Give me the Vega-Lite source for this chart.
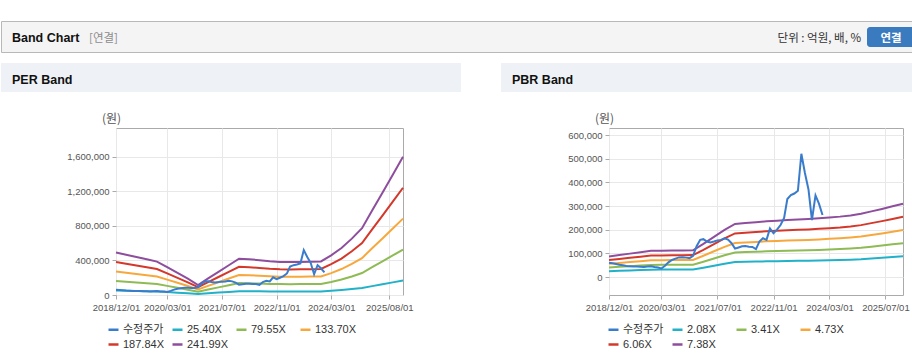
{
  "$schema": "https://vega.github.io/schema/vega-lite/v6.json",
  "padding": {"left": 0, "top": 20, "right": 0, "bottom": 0},
  "background": "#ffffff",
  "spacing": 10,
  "config": {
    "view": {"stroke": null},
    "axis": {"labelFont": "Liberation Sans", "labelFontSize": 9.5, "labelColor": "#555555", "gridColor": "#e8e8e8", "tickColor": "#aaaaaa", "tickSize": 4, "labelPadding": 3, "domain": false, "labelFlush": false, "labelOverlap": false, "titleFont": "Noto Sans CJK KR", "titleFontSize": 12, "titleFontWeight": "normal", "titleColor": "#555555"},
    "legend": {"orient": "none", "direction": "horizontal", "columns": 4, "gridAlign": "all", "symbolType": "stroke", "symbolSize": 100, "symbolStrokeWidth": 2.5, "labelFont": "Liberation Sans, Noto Sans CJK KR", "labelFontSize": 11, "labelColor": "#333333", "columnPadding": 3, "rowPadding": 3, "labelOffset": 3, "title": null}
  },
  "datasets": {
    "price": [
      {"d":"2018-12-01","s":"수정주가","v":60000},{"d":"2019-01-01","s":"수정주가","v":58000},{"d":"2019-02-01","s":"수정주가","v":55000},{"d":"2019-03-01","s":"수정주가","v":52000},{"d":"2019-04-01","s":"수정주가","v":50000},{"d":"2019-05-01","s":"수정주가","v":47000},{"d":"2019-06-01","s":"수정주가","v":46000},{"d":"2019-07-01","s":"수정주가","v":45000},{"d":"2019-08-01","s":"수정주가","v":44000},{"d":"2019-09-01","s":"수정주가","v":43000},{"d":"2019-10-01","s":"수정주가","v":42000},{"d":"2019-11-01","s":"수정주가","v":44000},{"d":"2019-12-01","s":"수정주가","v":45000},
      {"d":"2020-01-01","s":"수정주가","v":42000},{"d":"2020-02-01","s":"수정주가","v":40000},{"d":"2020-03-01","s":"수정주가","v":36000},{"d":"2020-04-01","s":"수정주가","v":48000},{"d":"2020-05-01","s":"수정주가","v":62000},{"d":"2020-06-01","s":"수정주가","v":72000},{"d":"2020-07-01","s":"수정주가","v":78000},{"d":"2020-08-01","s":"수정주가","v":83000},{"d":"2020-09-01","s":"수정주가","v":84000},{"d":"2020-10-01","s":"수정주가","v":82000},{"d":"2020-11-01","s":"수정주가","v":80000},{"d":"2020-12-01","s":"수정주가","v":90000},
      {"d":"2021-01-01","s":"수정주가","v":130000},{"d":"2021-02-01","s":"수정주가","v":157000},{"d":"2021-03-01","s":"수정주가","v":160000},{"d":"2021-04-01","s":"수정주가","v":150000},{"d":"2021-05-01","s":"수정주가","v":146000},{"d":"2021-06-01","s":"수정주가","v":150000},{"d":"2021-07-01","s":"수정주가","v":155000},{"d":"2021-08-01","s":"수정주가","v":157000},{"d":"2021-09-01","s":"수정주가","v":164000},{"d":"2021-10-01","s":"수정주가","v":158000},{"d":"2021-11-01","s":"수정주가","v":143000},{"d":"2021-12-01","s":"수정주가","v":120000},
      {"d":"2022-01-01","s":"수정주가","v":125000},{"d":"2022-02-01","s":"수정주가","v":130000},{"d":"2022-03-01","s":"수정주가","v":131000},{"d":"2022-04-01","s":"수정주가","v":128000},{"d":"2022-05-01","s":"수정주가","v":127000},{"d":"2022-06-01","s":"수정주가","v":118000},{"d":"2022-07-01","s":"수정주가","v":150000},{"d":"2022-08-01","s":"수정주가","v":164000},{"d":"2022-09-01","s":"수정주가","v":157000},{"d":"2022-10-01","s":"수정주가","v":205000},{"d":"2022-11-01","s":"수정주가","v":185000},{"d":"2022-12-01","s":"수정주가","v":200000},
      {"d":"2023-01-01","s":"수정주가","v":220000},{"d":"2023-02-01","s":"수정주가","v":250000},{"d":"2023-03-01","s":"수정주가","v":330000},{"d":"2023-04-01","s":"수정주가","v":346000},{"d":"2023-05-01","s":"수정주가","v":353000},{"d":"2023-06-01","s":"수정주가","v":365000},{"d":"2023-07-01","s":"수정주가","v":521000},{"d":"2023-08-01","s":"수정주가","v":440000},{"d":"2023-09-01","s":"수정주가","v":370000},{"d":"2023-10-01","s":"수정주가","v":241000},{"d":"2023-11-01","s":"수정주가","v":345000},{"d":"2023-12-01","s":"수정주가","v":310000},
      {"d":"2024-01-01","s":"수정주가","v":262000}
    ],
    "perBands": [
      {"d":"2018-12-01","s":"25.40X","v":51816},{"d":"2019-03-01","s":"25.40X","v":49022},{"d":"2019-06-01","s":"25.40X","v":46228},{"d":"2019-09-01","s":"25.40X","v":43434},{"d":"2019-12-01","s":"25.40X","v":40640},{"d":"2020-03-01","s":"25.40X","v":33782},{"d":"2020-06-01","s":"25.40X","v":26924},{"d":"2020-09-01","s":"25.40X","v":19812},{"d":"2020-12-01","s":"25.40X","v":12192},{"d":"2021-03-01","s":"25.40X","v":20193},{"d":"2021-06-01","s":"25.40X","v":28194},{"d":"2021-09-01","s":"25.40X","v":36195},{"d":"2021-12-01","s":"25.40X","v":44196},{"d":"2022-03-01","s":"25.40X","v":43434},{"d":"2022-06-01","s":"25.40X","v":42418},{"d":"2022-09-01","s":"25.40X","v":41148},{"d":"2022-12-01","s":"25.40X","v":40259},{"d":"2023-03-01","s":"25.40X","v":40132},{"d":"2023-06-01","s":"25.40X","v":40259},{"d":"2023-09-01","s":"25.40X","v":40513},{"d":"2023-12-01","s":"25.40X","v":40894},{"d":"2024-03-01","s":"25.40X","v":48260},{"d":"2024-06-01","s":"25.40X","v":57150},{"d":"2024-09-01","s":"25.40X","v":68580},{"d":"2024-12-01","s":"25.40X","v":81280},{"d":"2025-03-01","s":"25.40X","v":102870},{"d":"2025-06-01","s":"25.40X","v":124460},{"d":"2025-09-01","s":"25.40X","v":146304},{"d":"2025-12-01","s":"25.40X","v":168148},
      {"d":"2018-12-01","s":"79.55X","v":162282},{"d":"2019-03-01","s":"79.55X","v":153532},{"d":"2019-06-01","s":"79.55X","v":144781},{"d":"2019-09-01","s":"79.55X","v":136031},{"d":"2019-12-01","s":"79.55X","v":127280},{"d":"2020-03-01","s":"79.55X","v":105802},{"d":"2020-06-01","s":"79.55X","v":84323},{"d":"2020-09-01","s":"79.55X","v":62049},{"d":"2020-12-01","s":"79.55X","v":38184},{"d":"2021-03-01","s":"79.55X","v":63242},{"d":"2021-06-01","s":"79.55X","v":88301},{"d":"2021-09-01","s":"79.55X","v":113359},{"d":"2021-12-01","s":"79.55X","v":138417},{"d":"2022-03-01","s":"79.55X","v":136031},{"d":"2022-06-01","s":"79.55X","v":132849},{"d":"2022-09-01","s":"79.55X","v":128871},{"d":"2022-12-01","s":"79.55X","v":126087},{"d":"2023-03-01","s":"79.55X","v":125689},{"d":"2023-06-01","s":"79.55X","v":126087},{"d":"2023-09-01","s":"79.55X","v":126882},{"d":"2023-12-01","s":"79.55X","v":128076},{"d":"2024-03-01","s":"79.55X","v":151145},{"d":"2024-06-01","s":"79.55X","v":178988},{"d":"2024-09-01","s":"79.55X","v":214785},{"d":"2024-12-01","s":"79.55X","v":254560},{"d":"2025-03-01","s":"79.55X","v":322178},{"d":"2025-06-01","s":"79.55X","v":389795},{"d":"2025-09-01","s":"79.55X","v":458208},{"d":"2025-12-01","s":"79.55X","v":526621},
      {"d":"2018-12-01","s":"133.70X","v":272748},{"d":"2019-03-01","s":"133.70X","v":258041},{"d":"2019-06-01","s":"133.70X","v":243334},{"d":"2019-09-01","s":"133.70X","v":228627},{"d":"2019-12-01","s":"133.70X","v":213920},{"d":"2020-03-01","s":"133.70X","v":177821},{"d":"2020-06-01","s":"133.70X","v":141722},{"d":"2020-09-01","s":"133.70X","v":104286},{"d":"2020-12-01","s":"133.70X","v":64176},{"d":"2021-03-01","s":"133.70X","v":106292},{"d":"2021-06-01","s":"133.70X","v":148407},{"d":"2021-09-01","s":"133.70X","v":190523},{"d":"2021-12-01","s":"133.70X","v":232638},{"d":"2022-03-01","s":"133.70X","v":228627},{"d":"2022-06-01","s":"133.70X","v":223279},{"d":"2022-09-01","s":"133.70X","v":216594},{"d":"2022-12-01","s":"133.70X","v":211915},{"d":"2023-03-01","s":"133.70X","v":211246},{"d":"2023-06-01","s":"133.70X","v":211915},{"d":"2023-09-01","s":"133.70X","v":213252},{"d":"2023-12-01","s":"133.70X","v":215257},{"d":"2024-03-01","s":"133.70X","v":254030},{"d":"2024-06-01","s":"133.70X","v":300825},{"d":"2024-09-01","s":"133.70X","v":360990},{"d":"2024-12-01","s":"133.70X","v":427840},{"d":"2025-03-01","s":"133.70X","v":541485},{"d":"2025-06-01","s":"133.70X","v":655130},{"d":"2025-09-01","s":"133.70X","v":770112},{"d":"2025-12-01","s":"133.70X","v":885094},
      {"d":"2018-12-01","s":"187.84X","v":383194},{"d":"2019-03-01","s":"187.84X","v":362531},{"d":"2019-06-01","s":"187.84X","v":341869},{"d":"2019-09-01","s":"187.84X","v":321206},{"d":"2019-12-01","s":"187.84X","v":300544},{"d":"2020-03-01","s":"187.84X","v":249827},{"d":"2020-06-01","s":"187.84X","v":199110},{"d":"2020-09-01","s":"187.84X","v":146515},{"d":"2020-12-01","s":"187.84X","v":90163},{"d":"2021-03-01","s":"187.84X","v":149333},{"d":"2021-06-01","s":"187.84X","v":208502},{"d":"2021-09-01","s":"187.84X","v":267672},{"d":"2021-12-01","s":"187.84X","v":326842},{"d":"2022-03-01","s":"187.84X","v":321206},{"d":"2022-06-01","s":"187.84X","v":313693},{"d":"2022-09-01","s":"187.84X","v":304301},{"d":"2022-12-01","s":"187.84X","v":297726},{"d":"2023-03-01","s":"187.84X","v":296787},{"d":"2023-06-01","s":"187.84X","v":297726},{"d":"2023-09-01","s":"187.84X","v":299605},{"d":"2023-12-01","s":"187.84X","v":302422},{"d":"2024-03-01","s":"187.84X","v":356896},{"d":"2024-06-01","s":"187.84X","v":422640},{"d":"2024-09-01","s":"187.84X","v":507168},{"d":"2024-12-01","s":"187.84X","v":601088},{"d":"2025-03-01","s":"187.84X","v":760752},{"d":"2025-06-01","s":"187.84X","v":920416},{"d":"2025-09-01","s":"187.84X","v":1081958},{"d":"2025-12-01","s":"187.84X","v":1243501},
      {"d":"2018-12-01","s":"241.99X","v":493660},{"d":"2019-03-01","s":"241.99X","v":467041},{"d":"2019-06-01","s":"241.99X","v":440422},{"d":"2019-09-01","s":"241.99X","v":413803},{"d":"2019-12-01","s":"241.99X","v":387184},{"d":"2020-03-01","s":"241.99X","v":321847},{"d":"2020-06-01","s":"241.99X","v":256509},{"d":"2020-09-01","s":"241.99X","v":188752},{"d":"2020-12-01","s":"241.99X","v":116155},{"d":"2021-03-01","s":"241.99X","v":192382},{"d":"2021-06-01","s":"241.99X","v":268609},{"d":"2021-09-01","s":"241.99X","v":344836},{"d":"2021-12-01","s":"241.99X","v":421063},{"d":"2022-03-01","s":"241.99X","v":413803},{"d":"2022-06-01","s":"241.99X","v":404123},{"d":"2022-09-01","s":"241.99X","v":392024},{"d":"2022-12-01","s":"241.99X","v":383554},{"d":"2023-03-01","s":"241.99X","v":382344},{"d":"2023-06-01","s":"241.99X","v":383554},{"d":"2023-09-01","s":"241.99X","v":385974},{"d":"2023-12-01","s":"241.99X","v":389604},{"d":"2024-03-01","s":"241.99X","v":459781},{"d":"2024-06-01","s":"241.99X","v":544478},{"d":"2024-09-01","s":"241.99X","v":653373},{"d":"2024-12-01","s":"241.99X","v":774368},{"d":"2025-03-01","s":"241.99X","v":980060},{"d":"2025-06-01","s":"241.99X","v":1185751},{"d":"2025-09-01","s":"241.99X","v":1393862},{"d":"2025-12-01","s":"241.99X","v":1601974}
    ],
    "pbrBands": [
      {"d":"2018-12-01","s":"2.08X","v":24544},{"d":"2019-03-01","s":"2.08X","v":26208},{"d":"2019-06-01","s":"2.08X","v":27872},{"d":"2019-09-01","s":"2.08X","v":29536},{"d":"2019-12-01","s":"2.08X","v":31200},{"d":"2020-03-01","s":"2.08X","v":31408},{"d":"2020-06-01","s":"2.08X","v":31616},{"d":"2020-09-01","s":"2.08X","v":31616},{"d":"2020-12-01","s":"2.08X","v":31824},{"d":"2021-03-01","s":"2.08X","v":39520},{"d":"2021-06-01","s":"2.08X","v":47840},{"d":"2021-09-01","s":"2.08X","v":56160},{"d":"2021-12-01","s":"2.08X","v":63232},{"d":"2022-03-01","s":"2.08X","v":64272},{"d":"2022-06-01","s":"2.08X","v":65312},{"d":"2022-09-01","s":"2.08X","v":66352},{"d":"2022-12-01","s":"2.08X","v":67184},{"d":"2023-03-01","s":"2.08X","v":67808},{"d":"2023-06-01","s":"2.08X","v":68432},{"d":"2023-09-01","s":"2.08X","v":69056},{"d":"2023-12-01","s":"2.08X","v":69888},{"d":"2024-03-01","s":"2.08X","v":70928},{"d":"2024-06-01","s":"2.08X","v":71968},{"d":"2024-09-01","s":"2.08X","v":73424},{"d":"2024-12-01","s":"2.08X","v":75296},{"d":"2025-03-01","s":"2.08X","v":78208},{"d":"2025-06-01","s":"2.08X","v":81120},{"d":"2025-09-01","s":"2.08X","v":84240},{"d":"2025-12-01","s":"2.08X","v":87360},
      {"d":"2018-12-01","s":"3.41X","v":40238},{"d":"2019-03-01","s":"3.41X","v":42966},{"d":"2019-06-01","s":"3.41X","v":45694},{"d":"2019-09-01","s":"3.41X","v":48422},{"d":"2019-12-01","s":"3.41X","v":51150},{"d":"2020-03-01","s":"3.41X","v":51491},{"d":"2020-06-01","s":"3.41X","v":51832},{"d":"2020-09-01","s":"3.41X","v":51832},{"d":"2020-12-01","s":"3.41X","v":52173},{"d":"2021-03-01","s":"3.41X","v":64790},{"d":"2021-06-01","s":"3.41X","v":78430},{"d":"2021-09-01","s":"3.41X","v":92070},{"d":"2021-12-01","s":"3.41X","v":103664},{"d":"2022-03-01","s":"3.41X","v":105369},{"d":"2022-06-01","s":"3.41X","v":107074},{"d":"2022-09-01","s":"3.41X","v":108779},{"d":"2022-12-01","s":"3.41X","v":110143},{"d":"2023-03-01","s":"3.41X","v":111166},{"d":"2023-06-01","s":"3.41X","v":112189},{"d":"2023-09-01","s":"3.41X","v":113212},{"d":"2023-12-01","s":"3.41X","v":114576},{"d":"2024-03-01","s":"3.41X","v":116281},{"d":"2024-06-01","s":"3.41X","v":117986},{"d":"2024-09-01","s":"3.41X","v":120373},{"d":"2024-12-01","s":"3.41X","v":123442},{"d":"2025-03-01","s":"3.41X","v":128216},{"d":"2025-06-01","s":"3.41X","v":132990},{"d":"2025-09-01","s":"3.41X","v":138105},{"d":"2025-12-01","s":"3.41X","v":143220},
      {"d":"2018-12-01","s":"4.73X","v":55814},{"d":"2019-03-01","s":"4.73X","v":59598},{"d":"2019-06-01","s":"4.73X","v":63382},{"d":"2019-09-01","s":"4.73X","v":67166},{"d":"2019-12-01","s":"4.73X","v":70950},{"d":"2020-03-01","s":"4.73X","v":71423},{"d":"2020-06-01","s":"4.73X","v":71896},{"d":"2020-09-01","s":"4.73X","v":71896},{"d":"2020-12-01","s":"4.73X","v":72369},{"d":"2021-03-01","s":"4.73X","v":89870},{"d":"2021-06-01","s":"4.73X","v":108790},{"d":"2021-09-01","s":"4.73X","v":127710},{"d":"2021-12-01","s":"4.73X","v":143792},{"d":"2022-03-01","s":"4.73X","v":146157},{"d":"2022-06-01","s":"4.73X","v":148522},{"d":"2022-09-01","s":"4.73X","v":150887},{"d":"2022-12-01","s":"4.73X","v":152779},{"d":"2023-03-01","s":"4.73X","v":154198},{"d":"2023-06-01","s":"4.73X","v":155617},{"d":"2023-09-01","s":"4.73X","v":157036},{"d":"2023-12-01","s":"4.73X","v":158928},{"d":"2024-03-01","s":"4.73X","v":161293},{"d":"2024-06-01","s":"4.73X","v":163658},{"d":"2024-09-01","s":"4.73X","v":166969},{"d":"2024-12-01","s":"4.73X","v":171226},{"d":"2025-03-01","s":"4.73X","v":177848},{"d":"2025-06-01","s":"4.73X","v":184470},{"d":"2025-09-01","s":"4.73X","v":191565},{"d":"2025-12-01","s":"4.73X","v":198660},
      {"d":"2018-12-01","s":"6.06X","v":71508},{"d":"2019-03-01","s":"6.06X","v":76356},{"d":"2019-06-01","s":"6.06X","v":81204},{"d":"2019-09-01","s":"6.06X","v":86052},{"d":"2019-12-01","s":"6.06X","v":90900},{"d":"2020-03-01","s":"6.06X","v":91506},{"d":"2020-06-01","s":"6.06X","v":92112},{"d":"2020-09-01","s":"6.06X","v":92112},{"d":"2020-12-01","s":"6.06X","v":92718},{"d":"2021-03-01","s":"6.06X","v":115140},{"d":"2021-06-01","s":"6.06X","v":139380},{"d":"2021-09-01","s":"6.06X","v":163620},{"d":"2021-12-01","s":"6.06X","v":184224},{"d":"2022-03-01","s":"6.06X","v":187254},{"d":"2022-06-01","s":"6.06X","v":190284},{"d":"2022-09-01","s":"6.06X","v":193314},{"d":"2022-12-01","s":"6.06X","v":195738},{"d":"2023-03-01","s":"6.06X","v":197556},{"d":"2023-06-01","s":"6.06X","v":199374},{"d":"2023-09-01","s":"6.06X","v":201192},{"d":"2023-12-01","s":"6.06X","v":203616},{"d":"2024-03-01","s":"6.06X","v":206646},{"d":"2024-06-01","s":"6.06X","v":209676},{"d":"2024-09-01","s":"6.06X","v":213918},{"d":"2024-12-01","s":"6.06X","v":219372},{"d":"2025-03-01","s":"6.06X","v":227856},{"d":"2025-06-01","s":"6.06X","v":236340},{"d":"2025-09-01","s":"6.06X","v":245430},{"d":"2025-12-01","s":"6.06X","v":254520},
      {"d":"2018-12-01","s":"7.38X","v":87084},{"d":"2019-03-01","s":"7.38X","v":92988},{"d":"2019-06-01","s":"7.38X","v":98892},{"d":"2019-09-01","s":"7.38X","v":104796},{"d":"2019-12-01","s":"7.38X","v":110700},{"d":"2020-03-01","s":"7.38X","v":111438},{"d":"2020-06-01","s":"7.38X","v":112176},{"d":"2020-09-01","s":"7.38X","v":112176},{"d":"2020-12-01","s":"7.38X","v":112914},{"d":"2021-03-01","s":"7.38X","v":140220},{"d":"2021-06-01","s":"7.38X","v":169740},{"d":"2021-09-01","s":"7.38X","v":199260},{"d":"2021-12-01","s":"7.38X","v":224352},{"d":"2022-03-01","s":"7.38X","v":228042},{"d":"2022-06-01","s":"7.38X","v":231732},{"d":"2022-09-01","s":"7.38X","v":235422},{"d":"2022-12-01","s":"7.38X","v":238374},{"d":"2023-03-01","s":"7.38X","v":240588},{"d":"2023-06-01","s":"7.38X","v":242802},{"d":"2023-09-01","s":"7.38X","v":245016},{"d":"2023-12-01","s":"7.38X","v":247968},{"d":"2024-03-01","s":"7.38X","v":251658},{"d":"2024-06-01","s":"7.38X","v":255348},{"d":"2024-09-01","s":"7.38X","v":260514},{"d":"2024-12-01","s":"7.38X","v":267156},{"d":"2025-03-01","s":"7.38X","v":277488},{"d":"2025-06-01","s":"7.38X","v":287820},{"d":"2025-09-01","s":"7.38X","v":298890},{"d":"2025-12-01","s":"7.38X","v":309960}
    ]
  },
  "vconcat": [
    {
      "width": 912, "height": 31,
      "view": {"fill": "#f4f4f4", "stroke": "#b8b8b8"},
      "data": {"values": [{}]},
      "layer": [
        {"mark": {"type": "text", "text": "Band Chart", "x": 11, "y": 21, "align": "left", "baseline": "alphabetic", "font": "Liberation Sans", "fontSize": 12.5, "fontWeight": "bold", "color": "#111111"}},
        {"mark": {"type": "text", "text": "[연결]", "x": 88, "y": 21, "align": "left", "baseline": "alphabetic", "font": "Noto Sans CJK KR", "fontSize": 11.5, "color": "#8c8c8c"}},
        {"mark": {"type": "text", "text": "단위 : 억원, 배, %", "x": 860, "y": 21, "align": "right", "baseline": "alphabetic", "font": "Noto Sans CJK KR", "fontSize": 11.5, "color": "#333333"}},
        {"mark": {"type": "rect", "x": 866, "x2": 914, "y": 6, "y2": 26, "color": "#3a7abf", "cornerRadius": 3}},
        {"mark": {"type": "text", "text": "연결", "x": 890, "y": 20.5, "align": "center", "baseline": "alphabetic", "font": "Noto Sans CJK KR", "fontSize": 11.5, "fontWeight": "bold", "color": "#ffffff"}}
      ]
    },
    {
      "spacing": 19,
      "vconcat": [
        {
          "bounds": "flush",
          "spacing": 40,
          "hconcat": [
            {"width": 460, "height": 29, "view": {"fill": "#eef2f7", "stroke": null}, "data": {"values": [{}]},
             "mark": {"type": "text", "text": "PER Band", "x": 11, "y": 21, "align": "left", "baseline": "alphabetic", "font": "Liberation Sans", "fontSize": 12.5, "fontWeight": "bold", "color": "#111111"}},
            {"width": 412, "height": 29, "view": {"fill": "#eef2f7", "stroke": null}, "data": {"values": [{}]},
             "mark": {"type": "text", "text": "PBR Band", "x": 11, "y": 21, "align": "left", "baseline": "alphabetic", "font": "Liberation Sans", "fontSize": 12.5, "fontWeight": "bold", "color": "#111111"}}
          ]
        },
        {
          "bounds": "flush",
          "spacing": 0,
          "resolve": {"scale": {"color": "independent", "x": "independent", "y": "independent"}, "legend": {"color": "independent"}},
          "hconcat": [
            {"width": 115, "height": 167, "data": {"values": [{}]}, "mark": {"type": "point", "opacity": 0}, "view": {"stroke": null}},
            {
              "width": 287, "height": 167,
              "view": {"stroke": "#aaaaaa"},
              "encoding": {
                "x": {"field": "d", "type": "temporal",
                  "scale": {"type": "utc", "domain": [{"year": 2018, "month": 12, "date": 1, "utc": true}, {"year": 2025, "month": 12, "date": 1, "utc": true}]},
                  "axis": {"title": null, "labelExpr": "utcFormat(datum.value, '%Y/%m/%d')",
                    "values": [{"year": 2018, "month": 12, "date": 1, "utc": true}, {"year": 2020, "month": 3, "date": 1, "utc": true}, {"year": 2021, "month": 7, "date": 1, "utc": true}, {"year": 2022, "month": 11, "date": 1, "utc": true}, {"year": 2024, "month": 3, "date": 1, "utc": true}, {"year": 2025, "month": 8, "date": 1, "utc": true}]}},
                "y": {"field": "v", "type": "quantitative",
                  "scale": {"domain": [0, 1936000], "nice": false, "zero": false},
                  "axis": {"values": [0, 400000, 800000, 1200000, 1600000], "format": ",d", "title": "(원)", "titleAngle": 0, "titleAlign": "center", "titleBaseline": "middle", "titleX": -5, "titleY": -10}},
                "color": {"field": "s", "type": "nominal",
                  "scale": {"domain": ["수정주가", "25.40X", "79.55X", "133.70X", "187.84X", "241.99X"], "range": ["#3a7ccc", "#21b1c8", "#8fbb55", "#f7a83d", "#d3382b", "#8e4e9d"]},
                  "legend": {"legendX": -9, "legendY": 195}}
              },
              "layer": [
                {"data": {"name": "perBands"}, "mark": {"type": "line", "strokeWidth": 2}, "encoding": {}},
                {"data": {"name": "price"}, "mark": {"type": "line", "strokeWidth": 2}, "encoding": {}}
              ]
            },
            {"width": 206, "height": 167, "data": {"values": [{}]}, "mark": {"type": "point", "opacity": 0}, "view": {"stroke": null}},
            {
              "width": 294, "height": 167,
              "view": {"stroke": "#aaaaaa"},
              "encoding": {
                "x": {"field": "d", "type": "temporal",
                  "scale": {"type": "utc", "domain": [{"year": 2018, "month": 12, "date": 1, "utc": true}, {"year": 2025, "month": 12, "date": 1, "utc": true}]},
                  "axis": {"title": null, "labelExpr": "utcFormat(datum.value, '%Y/%m/%d')",
                    "values": [{"year": 2018, "month": 12, "date": 1, "utc": true}, {"year": 2020, "month": 3, "date": 1, "utc": true}, {"year": 2021, "month": 7, "date": 1, "utc": true}, {"year": 2022, "month": 11, "date": 1, "utc": true}, {"year": 2024, "month": 3, "date": 1, "utc": true}, {"year": 2025, "month": 7, "date": 1, "utc": true}]}},
                "y": {"field": "v", "type": "quantitative",
                  "scale": {"domain": [-76000, 630000], "nice": false, "zero": false},
                  "axis": {"values": [0, 100000, 200000, 300000, 400000, 500000, 600000], "format": ",d", "title": "(원)", "titleAngle": 0, "titleAlign": "center", "titleBaseline": "middle", "titleX": -5, "titleY": -10}},
                "color": {"field": "s", "type": "nominal",
                  "scale": {"domain": ["수정주가", "2.08X", "3.41X", "4.73X", "6.06X", "7.38X"], "range": ["#3a7ccc", "#21b1c8", "#8fbb55", "#f7a83d", "#d3382b", "#8e4e9d"]},
                  "legend": {"legendX": -2, "legendY": 195}}
              },
              "layer": [
                {"data": {"name": "pbrBands"}, "mark": {"type": "line", "strokeWidth": 2}, "encoding": {}},
                {"data": {"name": "price"}, "mark": {"type": "line", "strokeWidth": 2}, "encoding": {}}
              ]
            }
          ]
        }
      ]
    }
  ]
}
